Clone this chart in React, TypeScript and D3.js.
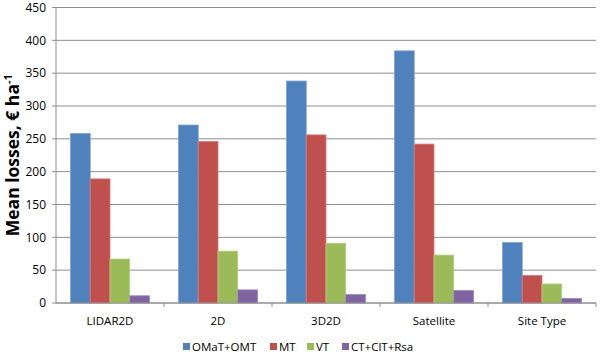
import React from "react";
import * as d3 from "d3";

const categories = ["LIDAR2D", "2D", "3D2D", "Satellite", "Site Type"];
const seriesNames = ["OMaT+OMT", "MT", "VT", "CT+ClT+Rsa"];
const omat = [258, 271, 338, 384, 92];
const mt = [189, 246, 256, 242, 42];
const vt = [67, 79, 91, 73, 29];
const ct = [11, 20, 13, 19, 7];
const yTicks = [0, 50, 100, 150, 200, 250, 300, 350, 400, 450];
const colors = ["#4F81BD", "#C0504D", "#9BBB59", "#8064A2"];
const strokes = ["#7DA3D1", "#D47B79", "#B7D08A", "#A08BBE"];

export default function App() {
  const W = 600, H = 356;
  const left = 56, right = 596, top = 7.5, bottom = 303;
  const series = [omat, mt, vt, ct];
  const x = d3.scaleBand<string>().domain(categories).range([left, right]).paddingInner(0).paddingOuter(0);
  const inner = d3.scaleBand<string>().domain(seriesNames).range([14.5, x.bandwidth() - 14.5]);
  const y = d3.scaleLinear().domain([0, 450]).range([bottom, top]);
  const font = "'Open Sans', 'Liberation Sans', sans-serif";
  const legendX = [183, 270, 307, 342];
  return (
    <svg width={W} height={H} style={{ position: "absolute", left: 0, top: 0, background: "#fff" }} fontFamily={font}>
      {yTicks.map((t) => (
        <g key={t}>
          <line x1={left} x2={right} y1={y(t)} y2={y(t)} stroke="#8E8E8E" strokeWidth={1} />
          <line x1={left - 4} x2={left} y1={y(t)} y2={y(t)} stroke="#8E8E8E" strokeWidth={1} />
          <text x={46} y={y(t)} dy="0.35em" textAnchor="end" fontSize={12} fill="#000">{t}</text>
        </g>
      ))}
      {series.map((vals, si) =>
        categories.map((c, ci) => (
          <rect
            key={si + "-" + ci}
            x={(x(c) as number) + (inner(seriesNames[si]) as number)}
            y={y(vals[ci])}
            width={inner.bandwidth()}
            height={bottom - y(vals[ci])}
            fill={colors[si]}
            stroke={strokes[si]}
            strokeWidth={0.8}
          />
        ))
      )}
      <line x1={left} x2={left} y1={top} y2={bottom + 0.5} stroke="#8E8E8E" />
      <line x1={left} x2={right} y1={bottom} y2={bottom} stroke="#8E8E8E" />
      {categories.map((c, i) => (
        <line key={"t" + i} x1={(x(c) as number) + x.bandwidth()} x2={(x(c) as number) + x.bandwidth()} y1={bottom} y2={bottom + 4} stroke="#8E8E8E" />
      ))}
      {categories.map((c) => (
        <text key={c} x={(x(c) as number) + x.bandwidth() / 2} y={321} dy="0.35em" textAnchor="middle" fontSize={11.5}>{c}</text>
      ))}
      <text transform={`translate(13,${(top + bottom) / 2}) rotate(-90)`} textAnchor="middle" dy="0.35em" fontSize={17.5} fontWeight="bold">
        Mean losses, € ha<tspan dy="-7" fontSize={11}>-1</tspan>
      </text>
      {seriesNames.map((s, i) => (
        <g key={s}>
          <rect x={legendX[i]} y={343} width={7} height={7} fill={colors[i]} />
          <text x={legendX[i] + 9} y={347} dy="0.35em" fontSize={11.5}>{s}</text>
        </g>
      ))}
    </svg>
  );
}
